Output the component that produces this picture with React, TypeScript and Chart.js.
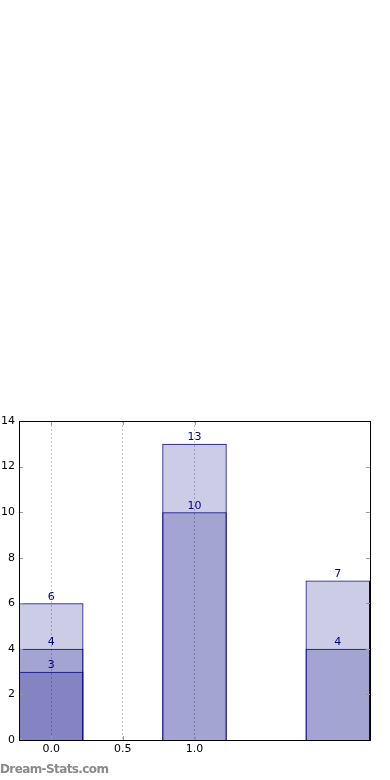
import React, { useEffect, useRef } from "react";
import { Chart, registerables } from "chart.js";

Chart.register(...registerables);

const positions = [0, 1, 2];
const lightValues = [6, 13, 7];
const mediumValues = [4, 10, 4];
const darkValues = [3];
const xTickValues = [0, 0.5, 1.0];
const yTickMax = 14;

const NAVY = "#000080";
const FILL = "rgba(0,0,128,0.2)";
const FONT = "DejaVu Sans";

const frame = {
  id: "frame",
  afterDatasetsDraw(chart: any) {
    const { ctx, chartArea: a, scales } = chart;
    ctx.save();
    // value labels
    ctx.font = `11px "${FONT}"`;
    ctx.fillStyle = NAVY;
    ctx.textAlign = "center";
    ctx.textBaseline = "bottom";
    chart.data.datasets.forEach((ds: any, i: number) => {
      const meta = chart.getDatasetMeta(i);
      meta.data.forEach((el: any, j: number) => {
        const v = ds.data[j].y;
        ctx.fillText(String(v), el.x, el.y - 1);
      });
    });
    // inward ticks
    ctx.strokeStyle = "#999";
    ctx.lineWidth = 1;
    const L = 4;
    scales.y.ticks.forEach((t: any) => {
      const y = Math.round(scales.y.getPixelForValue(t.value)) + 0.5;
      ctx.beginPath();
      ctx.moveTo(a.left, y);
      ctx.lineTo(a.left + L, y);
      ctx.moveTo(a.right, y);
      ctx.lineTo(a.right - L, y);
      ctx.stroke();
    });
    scales.x.ticks.forEach((t: any) => {
      const x = Math.round(scales.x.getPixelForValue(t.value)) + 0.5;
      ctx.beginPath();
      ctx.moveTo(x, a.bottom);
      ctx.lineTo(x, a.bottom - L);
      ctx.moveTo(x, a.top);
      ctx.lineTo(x, a.top + L);
      ctx.stroke();
    });
    // frame
    ctx.strokeStyle = "#000";
    ctx.lineWidth = 1;
    ctx.strokeRect(
      Math.round(a.left) + 0.5,
      Math.round(a.top) + 0.5,
      Math.round(a.right - a.left),
      Math.round(a.bottom - a.top)
    );
    ctx.restore();
  },
};

export default function App() {
  const ref = useRef<HTMLCanvasElement>(null);
  useEffect(() => {
    const mk = (vals: number[]) =>
      vals.map((v, i) => ({ x: positions[i], y: v }));
    const dsBase = {
      backgroundColor: FILL,
      borderColor: NAVY,
      borderWidth: 1,
      borderSkipped: "start",
      grouped: false,
      categoryPercentage: 0.9,
      barPercentage: 1,
    };
    const chart = new Chart(ref.current!, {
      type: "bar",
      data: {
        datasets: [
          { ...dsBase, data: mk(darkValues) },
          { ...dsBase, data: mk(mediumValues) },
          { ...dsBase, data: mk(lightValues) },
        ] as any,
      },
      options: {
        animation: false,
        responsive: false,
        devicePixelRatio: 1,
        layout: { padding: { left: 0, top: 421, right: 20, bottom: 0 } },
        plugins: { legend: { display: false }, tooltip: { enabled: false } },
        scales: {
          x: {
            type: "linear",
            min: -0.225,
            max: 2.225,
            offset: false,
            afterBuildTicks: (s: any) => {
              s.ticks = xTickValues.map((v) => ({ value: v }));
            },
            afterFit: (s: any) => {
              s.height = 40;
            },
            grid: {
              display: true,
              offset: false,
              color: "#c4c4c4",
              lineWidth: 1,
              drawTicks: false,
            },
            border: { display: true, color: "#000", dash: [2, 2] },
            ticks: {
              font: { family: FONT, size: 11 },
              color: "#000",
              padding: 3,
              maxRotation: 0,
              autoSkip: false,
              callback: (v: any) => Number(v).toFixed(1),
            },
          },
          y: {
            min: 0,
            max: yTickMax,
            afterFit: (s: any) => {
              s.width = 19;
            },
            grid: { display: false, drawTicks: false },
            border: { display: true, color: "#000" },
            ticks: {
              stepSize: 2,
              font: { family: FONT, size: 11 },
              color: "#000",
              padding: 4,
            },
          },
        },
      } as any,
      plugins: [frame],
    });
    return () => chart.destroy();
  }, []);
  return (
    <div style={{ position: "fixed", left: 0, top: 0, width: 390, height: 780, background: "#fff" }}>
      <canvas ref={ref} width={390} height={780} style={{ display: "block" }} />
      <div
        style={{
          position: "absolute",
          left: 0,
          top: 762,
          fontFamily: FONT,
          fontWeight: 600,
          fontSize: 12,
          color: "#8a8a8a",
          letterSpacing: -0.6,
          whiteSpace: "nowrap",
        }}
      >
        Dream-Stats.com
      </div>
    </div>
  );
}
